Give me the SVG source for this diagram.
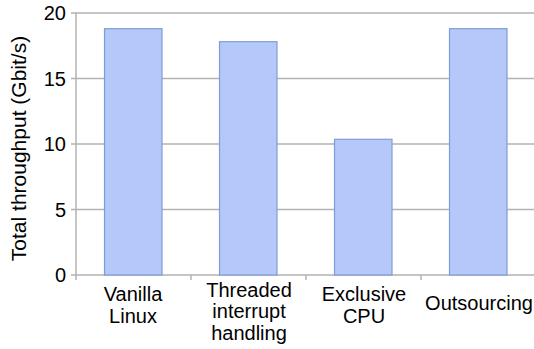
<svg xmlns="http://www.w3.org/2000/svg" width="534" height="349" viewBox="0 0 534 349">
  <style>
    text { font-family: "Liberation Sans", Arial, sans-serif; fill: #000; }
    .tick { font-size: 20px; text-anchor: end; }
    .cat { font-size: 20px; text-anchor: middle; }
    .title { font-size: 21px; text-anchor: middle; }
    .grid { stroke: #b3b3b3; stroke-width: 1.5; fill: none; }
    .axis { stroke: #b3b3b3; stroke-width: 1.5; fill: none; }
    .bar { fill: #b4c8f9; stroke: #7f9dd5; stroke-width: 1.2; }
  </style>
  <rect width="534" height="349" fill="#fff"/>

  <!-- horizontal gridlines (20, 15, 10, 5) -->
  <g id="gridlines">
    <path class="grid" d="M76 13H534M76 78.5H534M76 144H534M76 209.5H534"/>
  </g>

  <!-- axes with tick marks -->
  <g id="axes">
    <path class="axis" d="M76 13V275M71 275H534"/>
    <path class="axis" d="M71 13H76M71 78.5H76M71 144H76M71 209.5H76"/>
    <path class="axis" d="M76 275V280M191 275V280M306 275V280M421 275V280"/>
  </g>

  <!-- y tick labels -->
  <g id="y-labels">
    <text class="tick" x="66" y="20">20</text>
    <text class="tick" x="66" y="85.5">15</text>
    <text class="tick" x="66" y="151">10</text>
    <text class="tick" x="66" y="216.5">5</text>
    <text class="tick" x="66" y="282">0</text>
  </g>

  <text class="title" transform="translate(25.5 148.5) rotate(-90)">Total throughput (Gbit/s)</text>

  <!-- bars: value v maps to y = 275 - 13.1 * v -->
  <g id="bar-vanilla">
    <rect class="bar" x="104.5" y="28.7" width="57.5" height="246.3"/>
    <text class="cat" x="133" y="300.5">Vanilla</text>
    <text class="cat" x="133" y="322.5">Linux</text>
  </g>
  <g id="bar-threaded">
    <rect class="bar" x="219.5" y="41.7" width="57.5" height="233.3"/>
    <text class="cat" x="249" y="296.5">Threaded</text>
    <text class="cat" x="249" y="318.3">interrupt</text>
    <text class="cat" x="249" y="340">handling</text>
  </g>
  <g id="bar-exclusive">
    <rect class="bar" x="334.5" y="139.3" width="57.5" height="135.7"/>
    <text class="cat" x="364" y="300.5">Exclusive</text>
    <text class="cat" x="364" y="322.5">CPU</text>
  </g>
  <g id="bar-outsourcing">
    <rect class="bar" x="449.5" y="28.7" width="57.5" height="246.3"/>
    <text class="cat" x="479" y="310">Outsourcing</text>
  </g>
</svg>
